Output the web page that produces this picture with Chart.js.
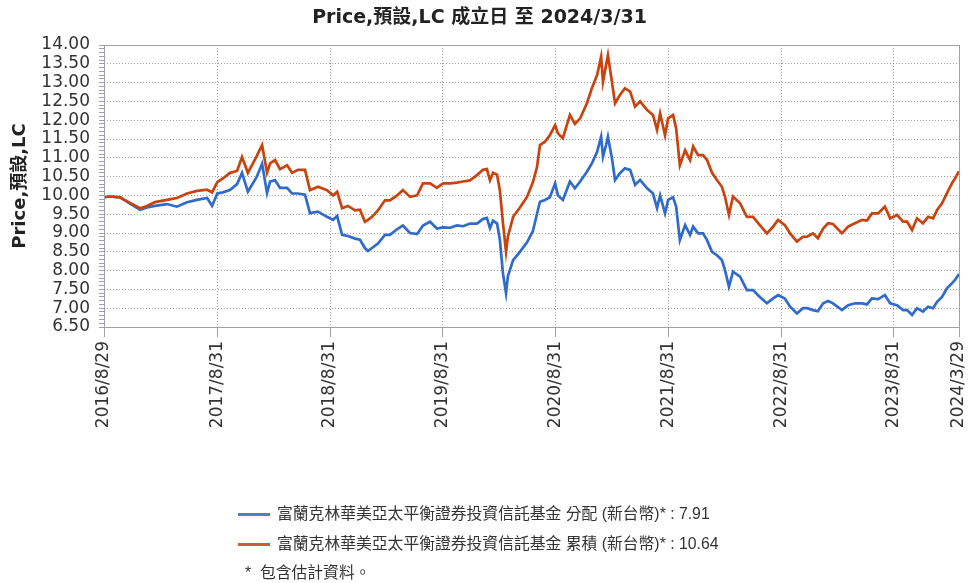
<!DOCTYPE html>
<html>
<head>
<meta charset="utf-8">
<script src="https://cdn.jsdelivr.net/npm/chart.js@4.4.1/dist/chart.umd.min.js"></script>
<style>
  html, body { margin: 0; padding: 0; background: #fff; }
  #wrap { position: relative; width: 970px; height: 583px; overflow: hidden; }
  #c { position: absolute; left: 0; top: 0; }
  .lg { position: absolute; font-family: "Liberation Sans", "Noto Sans CJK TC", sans-serif; font-size: 15.8px; color: #333; white-space: nowrap; line-height: 18px; }
  .sw { position: absolute; width: 32px; height: 3px; }
</style>
</head>
<body>
<div id="wrap">
  <canvas id="c" width="970" height="583"></canvas>
  <div class="sw" style="left:238px; top:513px; background:#4a7fd0;"></div>
  <div class="lg" style="left:277px; top:505px;">富蘭克林華美亞太平衡證券投資信託基金 分配 (新台幣)* : 7.91</div>
  <div class="sw" style="left:238px; top:543px; background:#d65a2a;"></div>
  <div class="lg" style="left:277px; top:535px;">富蘭克林華美亞太平衡證券投資信託基金 累積 (新台幣)* : 10.64</div>
  <div class="lg" style="left:245px; top:564px;">*&nbsp; 包含估計資料。</div>
</div>
<script>
const dates = [
  '2016-08-29','2016-09-17','2016-10-20','2016-11-21','2016-12-24','2017-01-15','2017-02-10','2017-03-21','2017-04-22','2017-05-25',
  '2017-06-26','2017-07-29','2017-08-14','2017-08-31','2017-09-18','2017-10-11','2017-11-03','2017-11-19','2017-12-08','2018-01-06',
  '2018-01-23','2018-02-08','2018-02-18','2018-03-06','2018-03-22','2018-04-14','2018-04-30','2018-05-19','2018-06-11','2018-06-27',
  '2018-07-23','2018-08-21','2018-09-10','2018-09-23','2018-10-09','2018-10-28','2018-11-20','2018-12-06','2018-12-22','2019-01-01',
  '2019-01-14','2019-02-02','2019-02-25','2019-03-13','2019-04-05','2019-04-24','2019-05-17','2019-06-09','2019-06-28','2019-07-21',
  '2019-08-12','2019-09-01','2019-09-24','2019-10-16','2019-11-05','2019-11-27','2019-12-20','2020-01-08','2020-01-21','2020-01-31',
  '2020-02-10','2020-02-23','2020-03-03','2020-03-13','2020-03-23','2020-03-29','2020-04-15','2020-05-07','2020-05-30','2020-06-18',
  '2020-07-01','2020-07-11','2020-07-27','2020-08-12','2020-08-29','2020-09-07','2020-09-23','2020-10-16','2020-11-01','2020-11-18',
  '2020-12-10','2020-12-26','2021-01-12','2021-01-25','2021-01-31','2021-02-10','2021-02-16','2021-03-01','2021-03-11','2021-03-27',
  '2021-04-12','2021-04-29','2021-05-15','2021-05-31','2021-06-23','2021-07-12','2021-07-25','2021-08-04','2021-08-20','2021-08-30',
  '2021-09-15','2021-09-25','2021-10-07','2021-10-24','2021-11-09','2021-11-19','2021-12-05','2021-12-21','2022-01-03','2022-01-19',
  '2022-02-04','2022-02-20','2022-03-02','2022-03-15','2022-03-28','2022-04-20','2022-05-12','2022-06-01','2022-06-23','2022-07-16',
  '2022-08-05','2022-08-21','2022-09-12','2022-09-29','2022-10-21','2022-11-10','2022-11-23','2022-12-12','2022-12-28','2023-01-14',
  '2023-01-30','2023-02-15','2023-03-16','2023-04-05','2023-04-27','2023-05-20','2023-06-05','2023-06-21','2023-07-11','2023-08-02',
  '2023-08-19','2023-09-10','2023-09-30','2023-10-13','2023-10-29','2023-11-14','2023-12-03','2023-12-20','2024-01-05','2024-01-18',
  '2024-02-03','2024-02-19','2024-03-06','2024-03-16','2024-03-29'
];
const distValues = [
  9.95,9.97,9.95,9.78,9.62,9.68,9.72,9.77,9.70,9.82,
  9.88,9.93,9.72,10.05,10.08,10.14,10.30,10.60,10.10,10.50,
  10.84,10.06,10.37,10.40,10.20,10.20,10.05,10.05,10.02,9.53,
  9.57,9.43,9.35,9.45,8.95,8.92,8.85,8.82,8.60,8.52,
  8.60,8.72,8.95,8.95,9.10,9.20,9.00,8.97,9.20,9.30,
  9.12,9.15,9.14,9.20,9.18,9.25,9.25,9.37,9.40,9.13,
  9.33,9.25,8.82,7.93,7.40,7.85,8.28,8.50,8.75,9.05,
  9.50,9.83,9.88,9.95,10.32,10.00,9.88,10.37,10.19,10.37,
  10.63,10.85,11.16,11.56,11.03,11.34,11.56,10.99,10.41,10.59,
  10.72,10.68,10.28,10.41,10.19,10.05,9.66,10.00,9.52,9.88,
  9.95,9.70,8.81,9.21,8.95,9.17,8.99,8.99,8.81,8.50,
  8.41,8.28,8.02,7.57,7.97,7.84,7.48,7.48,7.30,7.13,
  7.26,7.35,7.26,7.04,6.86,7.00,7.00,6.95,6.92,7.13,
  7.19,7.13,6.95,7.08,7.13,7.13,7.10,7.26,7.24,7.35,
  7.13,7.08,6.95,6.95,6.82,7.00,6.91,7.04,7.00,7.17,
  7.30,7.53,7.66,7.75,7.91
];
const accValues = [
  9.95,9.97,9.95,9.80,9.66,9.72,9.82,9.88,9.93,10.05,
  10.12,10.15,10.08,10.35,10.45,10.60,10.65,11.02,10.60,11.05,
  11.34,10.60,10.85,10.94,10.70,10.80,10.60,10.68,10.68,10.14,
  10.23,10.14,10.00,10.10,9.66,9.72,9.60,9.62,9.30,9.35,
  9.43,9.60,9.87,9.87,10.00,10.14,9.96,10.00,10.32,10.32,
  10.20,10.32,10.32,10.34,10.37,10.40,10.54,10.68,10.70,10.40,
  10.60,10.55,10.14,9.27,8.50,8.90,9.43,9.68,9.96,10.35,
  10.74,11.34,11.43,11.60,11.87,11.65,11.52,12.14,11.90,12.05,
  12.45,12.85,13.20,13.69,13.02,13.47,13.73,13.02,12.45,12.67,
  12.85,12.76,12.36,12.50,12.27,12.14,11.74,12.18,11.60,12.05,
  12.14,11.78,10.80,11.20,10.94,11.30,11.07,11.07,10.94,10.60,
  10.41,10.23,9.97,9.48,9.97,9.79,9.43,9.43,9.21,8.99,
  9.17,9.35,9.21,8.99,8.77,8.90,8.90,8.99,8.86,9.12,
  9.26,9.24,8.99,9.17,9.26,9.35,9.33,9.52,9.52,9.70,
  9.39,9.48,9.30,9.30,9.08,9.39,9.26,9.43,9.39,9.61,
  9.79,10.06,10.32,10.45,10.64
];
const xTickLabels = ['2016/8/29','2017/8/31','2018/8/31','2019/8/31','2020/8/31','2021/8/31','2022/8/31','2023/8/31','2024/3/29'];
const yMin = 6.5, yMax = 14.0;

function dayNum(s) {
  const p = s.split(/[-\/]/).map(Number);
  return Math.round((Date.UTC(p[0], p[1] - 1, p[2]) - Date.UTC(2016, 7, 29)) / 86400000);
}
const xTickValues = xTickLabels.map(dayNum);
const isMajor = v => Math.abs(v * 2 - Math.round(v * 2)) < 1e-6;

const borderPlugin = {
  id: 'plotBorder',
  afterDatasetsDraw(chart) {
    const a = chart.chartArea, ctx = chart.ctx;
    ctx.save();
    ctx.strokeStyle = '#a0a0a8';
    ctx.lineWidth = 1;
    ctx.strokeRect(Math.round(a.left) + 0.5, Math.round(a.top) + 0.5, Math.round(a.right - a.left), Math.round(a.bottom - a.top));
    ctx.restore();
  }
};

new Chart(document.getElementById('c'), {
  type: 'line',
  data: {
    datasets: [
      {
        label: '富蘭克林華美亞太平衡證券投資信託基金 累積 (新台幣)*',
        data: dates.map((d, i) => ({ x: dayNum(d), y: accValues[i] })),
        borderColor: '#c9430f',
        borderWidth: 2.7,
        pointRadius: 0,
        tension: 0,
        order: 0
      },
      {
        label: '富蘭克林華美亞太平衡證券投資信託基金 分配 (新台幣)*',
        data: dates.map((d, i) => ({ x: dayNum(d), y: distValues[i] })),
        borderColor: '#2f6bcb',
        borderWidth: 2.7,
        pointRadius: 0,
        tension: 0,
        order: 1
      }
    ]
  },
  options: {
    responsive: false,
    animation: false,
    devicePixelRatio: 1,
    layout: { padding: { left: 0, right: 11, top: 0, bottom: 156 } },
    plugins: {
      legend: { display: false },
      tooltip: { enabled: false },
      title: {
        display: true,
        text: 'Price,預設,LC 成立日 至 2024/3/31',
        color: '#222',
        font: { family: "'DejaVu Sans', 'Noto Sans CJK TC'", size: 19, weight: 'bold' },
        padding: { top: 7, bottom: 15.2 }
      }
    },
    scales: {
      x: {
        type: 'linear',
        min: 0,
        max: dayNum('2024/3/29'),
        afterBuildTicks: s => { s.ticks = xTickValues.map(v => ({ value: v })); },
        afterFit: s => { s.height = 100; s.paddingLeft = 0; s.paddingRight = 0; },
        ticks: {
          autoSkip: false,
          minRotation: 90,
          maxRotation: 90,
          padding: 4,
          color: '#333',
          font: { family: "'DejaVu Sans'", size: 17 },
          callback: v => { const i = xTickValues.indexOf(v); return i >= 0 ? xTickLabels[i] : ''; }
        },
        grid: { color: '#a0a0a0', lineWidth: 1, drawTicks: true, tickLength: 10, tickColor: '#a0a0a8', tickBorderDash: [] },
        border: { display: false, dash: [1, 2] }
      },
      y: {
        min: yMin,
        max: yMax,
        afterFit: s => { s.width = 104; s.paddingTop = 0; s.paddingBottom = 0; },
        ticks: {
          stepSize: 0.1,
          autoSkip: false,
          padding: 9,
          color: '#333',
          font: { family: "'DejaVu Sans'", size: 17 },
          callback: v => isMajor(v) ? v.toFixed(2) : ''
        },
        grid: {
          color: c => (c.tick && isMajor(c.tick.value)) ? '#a0a0a0' : 'rgba(0,0,0,0)',
          tickColor: '#a0a0a8',
          tickLength: 5,
          tickBorderDash: []
        },
        border: { display: false, dash: [1, 2] },
        title: {
          display: true,
          text: 'Price,預設,LC',
          color: '#222',
          font: { family: "'DejaVu Sans', 'Noto Sans CJK TC'", size: 18, weight: 'bold' },
          padding: { top: 10, bottom: 0 }
        }
      }
    }
  },
  plugins: [borderPlugin]
});
</script>
</body>
</html>
